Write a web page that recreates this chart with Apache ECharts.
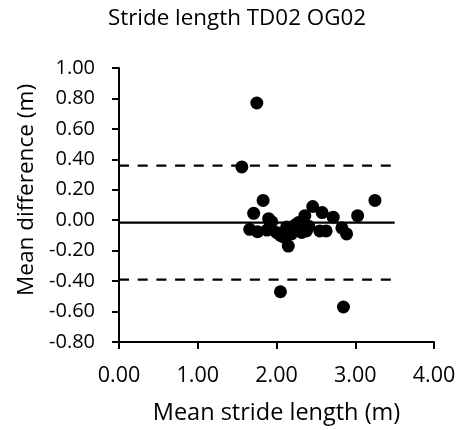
<!DOCTYPE html>
<html>
<head>
<meta charset="utf-8">
<script src="https://cdn.jsdelivr.net/npm/echarts@6/dist/echarts.min.js"></script>
<style>
  html, body { margin: 0; padding: 0; background: #ffffff; }
  #chart { width: 460px; height: 430px; }
</style>
</head>
<body>
<div id="chart"></div>
<script>
// ---- Data ----
const titleText = "Stride length TD02 OG02";
const xAxisTitle = "Mean stride length (m)";
const yAxisTitle = "Mean difference (m)";

// Mean stride length (m) for each stride pair
const meanStride = [
  1.75, 1.56, 2.05, 2.85, 3.25, 3.03, 1.83, 1.71, 1.66, 1.76,
  1.88, 1.90, 2.05, 2.13, 2.15, 2.09, 2.19, 2.28, 2.36, 2.46,
  2.58, 2.38, 2.55, 2.63, 2.72, 2.83, 2.89, 2.32, 2.41, 2.24,
  1.94, 2.00
];
// Difference (m) for each stride pair
const meanDifference = [
  0.77, 0.35, -0.47, -0.57, 0.13, 0.03, 0.13, 0.045, -0.06, -0.075,
  -0.065, 0.01, -0.10, -0.045, -0.17, -0.11, -0.09, -0.015, 0.03, 0.09,
  0.05, -0.07, -0.07, -0.07, 0.02, -0.05, -0.09, -0.08, -0.04, -0.03,
  -0.01, -0.08
];

// Bias and limits of agreement
const biasValue = -0.016;
const upperLimit = 0.358;
const lowerLimit = -0.390;
const limitLineX = [0, 3.5];

// Axis ticks
const xTicks = [0, 1, 2, 3, 4];
const yTicks = [-0.8, -0.6, -0.4, -0.2, 0, 0.2, 0.4, 0.6, 0.8, 1.0];

// ---- Build ----
const points = meanStride.map((x, i) => [x, meanDifference[i]]);
const hLine = v => limitLineX.map(x => [x, v]);

const FONT = "Open Sans";
const chart = echarts.init(document.getElementById('chart'), null, { renderer: 'canvas' });

chart.setOption({
  animation: false,
  backgroundColor: '#ffffff',
  title: {
    text: titleText,
    left: 232,
    textAlign: 'center',
    top: 3,
    textStyle: { fontFamily: FONT, fontSize: 22.4, fontWeight: 'normal', color: '#000' }
  },
  grid: { left: 119, top: 68, right: 26, bottom: 88, containLabel: false },
  xAxis: {
    type: 'value',
    min: xTicks[0],
    max: xTicks[xTicks.length - 1],
    interval: 1,
    name: xAxisTitle,
    nameLocation: 'middle',
    nameGap: 59,
    nameTextStyle: { fontFamily: FONT, fontSize: 23.5, color: '#000' },
    axisLine: { show: true, onZero: false, lineStyle: { color: '#000', width: 2 } },
    axisTick: { show: true, inside: false, length: 7, lineStyle: { color: '#000', width: 2 } },
    axisLabel: { fontFamily: FONT, fontSize: 21.5, color: '#000', margin: 23,
      formatter: v => v.toFixed(2) },
    splitLine: { show: false }
  },
  yAxis: {
    type: 'value',
    min: yTicks[0],
    max: yTicks[yTicks.length - 1],
    interval: 0.2,
    name: yAxisTitle,
    nameLocation: 'middle',
    nameGap: 80,
    nameTextStyle: { fontFamily: FONT, fontSize: 22.6, color: '#000', padding: [0, 0, 0, 30] },
    axisLine: { show: true, onZero: false, lineStyle: { color: '#000', width: 2 } },
    axisTick: { show: true, inside: false, length: 7, lineStyle: { color: '#000', width: 2 } },
    axisLabel: { fontFamily: FONT, fontSize: 20, color: '#000', margin: 24,
      formatter: v => v.toFixed(2) },
    splitLine: { show: false }
  },
  series: [
    {
      type: 'line', data: hLine(biasValue), symbol: 'none', silent: true, z: 2,
      lineStyle: { color: '#000', width: 2.25, type: 'solid' }
    },
    {
      type: 'line', data: hLine(upperLimit), symbol: 'none', silent: true, z: 2,
      lineStyle: { color: '#000', width: 2.25, type: [10, 8.7] }
    },
    {
      type: 'line', data: hLine(lowerLimit), symbol: 'none', silent: true, z: 2,
      lineStyle: { color: '#000', width: 2.25, type: [10, 8.7] }
    },
    {
      type: 'scatter', data: points, symbol: 'circle', symbolSize: 13, z: 5,
      itemStyle: { color: '#000', opacity: 1 }
    }
  ]
});
</script>
</body>
</html>
